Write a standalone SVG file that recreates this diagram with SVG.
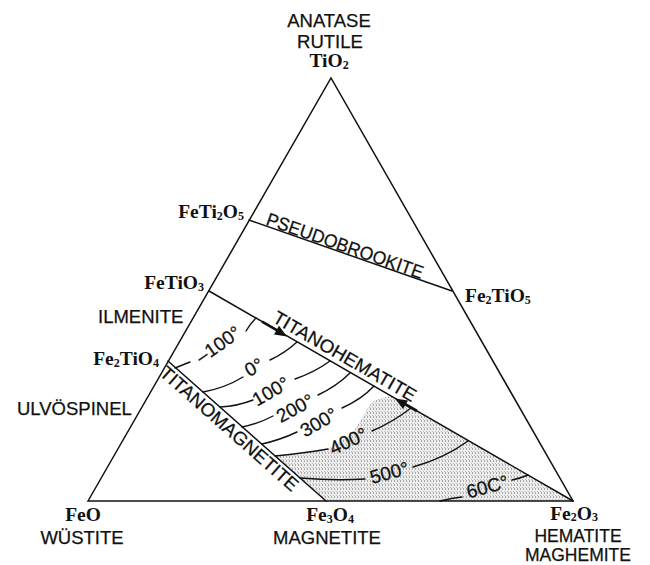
<svg xmlns="http://www.w3.org/2000/svg" width="650" height="565" viewBox="0 0 650 565">
<style>
.ln{fill:none;stroke:#111;stroke-width:1.5;stroke-linecap:round}
.ct{fill:none;stroke:#111;stroke-width:1.4;stroke-linecap:round}
.sn{font-family:"Liberation Sans",Arial,sans-serif;font-size:18.5px;fill:#111;stroke:#111;stroke-width:0.25}
.cl{font-family:"Liberation Sans",Arial,sans-serif;font-size:19px;fill:#111;stroke:#111;stroke-width:0.25;text-anchor:middle}
.fm{font-family:"Liberation Serif","Times New Roman",serif;font-weight:bold;font-size:19.5px;fill:#111}
.sb{font-size:12px}
.mid{text-anchor:middle}
.end{text-anchor:end}
.sm{font-size:17.5px}
.ah{fill:#111;stroke:none}
</style>
<defs>
<pattern id="stip" width="3" height="4" patternUnits="userSpaceOnUse">
<rect width="3" height="4" fill="#ececec"/>
<rect x="1" y="0" width="1" height="2" fill="#a8a8a8"/>
<rect x="0" y="3" width="1" height="1" fill="#bdbdbd"/>
</pattern>
</defs>
<rect width="650" height="565" fill="#fff"/>

<g id="shaded-region">
<path d="M275,456 Q305,453 328,449 L352,434 Q362,418 372,402 Q382,396 392,396.5 L573,501 L326,501 Z" fill="url(#stip)"/>
</g>

<g id="connectors">
<polygon class="ln" points="88,501 331,78 573,501"/>
<line class="ln" x1="249" y1="220" x2="452" y2="291"/>
<line class="ln" x1="209" y1="291" x2="573" y2="501"/>
<line class="ln" x1="168" y1="361" x2="326" y2="501"/>
<g id="contours">
<path class="ct" d="M175,368 L190,362 M246,331 Q250,324 256,318"/>
<path class="ct" d="M203,392 Q225,388 243,377 M270,360 Q285,353 297,342"/>
<path class="ct" d="M220,407 Q238,406 253,400 M295,379 Q315,372 330,361"/>
<path class="ct" d="M242,427 Q258,424 273,416 M318,395 Q337,386 350,373"/>
<path class="ct" d="M262,444 Q280,440 297,432 M342,408 Q362,399 374,386"/>
<path class="ct" d="M275,456 Q305,453 328,449 M372,431 Q393,422 411,408"/>
<path class="ct" d="M300,478 Q335,481 365,479 M413,467 Q445,458 468,441"/>
<path class="ct" d="M440,501 Q452,498 462,497 M512,480 Q521,478 528,475"/>
</g>
<g id="arrows">
<line x1="262" y1="321.6" x2="278" y2="330.8" stroke="#111" stroke-width="2.6"/>
<polygon class="ah" points="287,336.5 274,334.5 279,325.8"/>
<line x1="417" y1="411" x2="404" y2="403.5" stroke="#111" stroke-width="2.6"/>
<polygon class="ah" points="395,398.4 408,400.4 403,409.1"/>
</g>
</g>

<g id="node-tio2">
<text class="sn mid" x="329" y="27">ANATASE</text>
<text class="sn mid" x="330" y="48">RUTILE</text>
<text class="fm mid" x="329" y="67">TiO<tspan class="sb" dy="2">2</tspan></text>
</g>
<g id="node-feti2o5">
<text class="fm end" x="244" y="218">FeTi<tspan class="sb" dy="2">2</tspan><tspan dy="-2">O</tspan><tspan class="sb" dy="2">5</tspan></text>
</g>
<g id="node-fetio3">
<text class="fm end" x="204" y="289">FeTiO<tspan class="sb" dy="2">3</tspan></text>
<text class="sn" x="98" y="323">ILMENITE</text>
</g>
<g id="node-fe2tio4">
<text class="fm end" x="159" y="365">Fe<tspan class="sb" dy="2">2</tspan><tspan dy="-2">TiO</tspan><tspan class="sb" dy="2">4</tspan></text>
<text class="sn" x="17" y="415">ULVÖSPINEL</text>
</g>
<g id="node-fe2tio5">
<text class="fm" x="465" y="302">Fe<tspan class="sb" dy="2">2</tspan><tspan dy="-2">TiO</tspan><tspan class="sb" dy="2">5</tspan></text>
</g>
<g id="node-feo">
<text class="fm mid" x="83" y="521">FeO</text>
<text class="sn mid" x="82" y="544">WÜSTITE</text>
</g>
<g id="node-fe3o4">
<text class="fm mid" x="330" y="521">Fe<tspan class="sb" dy="2">3</tspan><tspan dy="-2">O</tspan><tspan class="sb" dy="2">4</tspan></text>
<text class="sn mid" x="327" y="544">MAGNETITE</text>
</g>
<g id="node-fe2o3">
<text class="fm mid" x="574" y="519.5">Fe<tspan class="sb" dy="1.5">2</tspan><tspan dy="-1.5">O</tspan><tspan class="sb" dy="1.5">3</tspan></text>
<text class="sn sm mid" x="578" y="541.5">HEMATITE</text>
<text class="sn sm mid" x="578" y="561">MAGHEMITE</text>
</g>

<g id="series-labels">
<text class="sn" transform="translate(265,224.5) rotate(19.3)" textLength="165" lengthAdjust="spacingAndGlyphs">PSEUDOBROOKITE</text>
<text class="sn" transform="translate(271.5,321.3) rotate(30)" textLength="162" lengthAdjust="spacingAndGlyphs">TITANOHEMATITE</text>
<text class="sn" transform="translate(158.5,374.5) rotate(41.5)" textLength="178" lengthAdjust="spacingAndGlyphs">TITANOMAGNETITE</text>
</g>

<g id="contour-labels">
<text class="cl" transform="translate(222,350) rotate(-35)">–100°</text>
<text class="cl" transform="translate(257,373) rotate(-28)">0°</text>
<text class="cl" transform="translate(274,397) rotate(-30)">100°</text>
<text class="cl" transform="translate(298,414) rotate(-28)">200°</text>
<text class="cl" transform="translate(322,428) rotate(-30)">300°</text>
<text class="cl" transform="translate(351,447) rotate(-25)">400°</text>
<text class="cl" transform="translate(391,479) rotate(-15)">500°</text>
<text class="cl" transform="translate(489,493) rotate(-15)">60C°</text>
</g>
</svg>
